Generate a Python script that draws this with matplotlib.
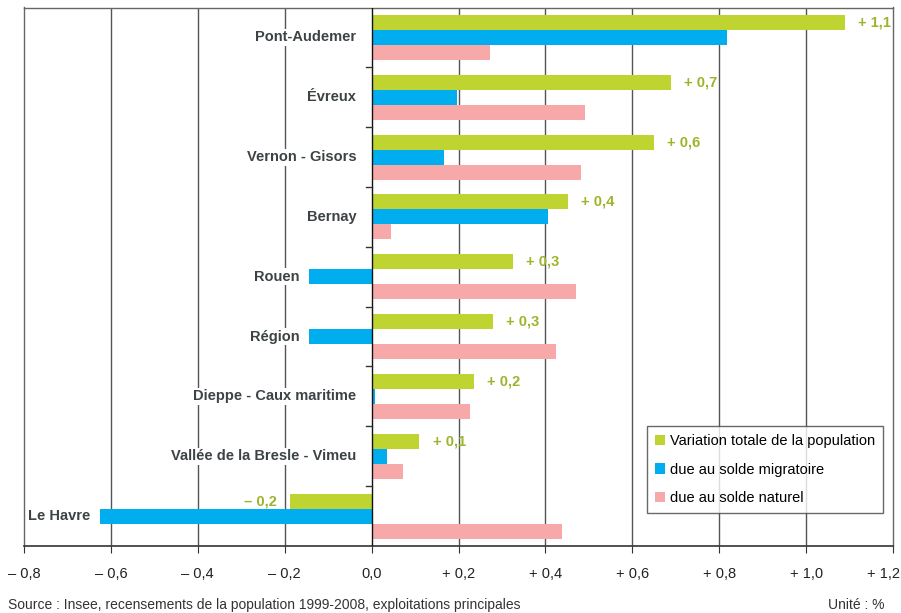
import matplotlib.pyplot as plt
import matplotlib.transforms as mtransforms
import numpy as np

plt.rcParams['font.family'] = ['Liberation Sans Narrow', 'Liberation Sans', 'DejaVu Sans']

zones = ["Pont-Audemer", "Évreux", "Vernon - Gisors", "Bernay", "Rouen", "Région",
         "Dieppe - Caux maritime", "Vallée de la Bresle - Vimeu", "Le Havre"]
totale = [1.089, 0.688, 0.649, 0.451, 0.326, 0.280, 0.236, 0.110, -0.187]
migratoire = [0.818, 0.197, 0.167, 0.405, -0.143, -0.143, 0.008, 0.036, -0.626]
naturel = [0.273, 0.492, 0.483, 0.045, 0.470, 0.424, 0.227, 0.073, 0.438]
etiquettes = ["+ 1,1", "+ 0,7", "+ 0,6", "+ 0,4", "+ 0,3", "+ 0,3", "+ 0,2", "+ 0,1", "– 0,2"]
xticks = [-0.8, -0.6, -0.4, -0.2, 0.0, 0.2, 0.4, 0.6, 0.8, 1.0, 1.2]
xlabels = ["– 0,8", "– 0,6", "– 0,4", "– 0,2", "0,0", "+ 0,2", "+ 0,4", "+ 0,6", "+ 0,8", "+ 1,0", "+ 1,2"]

c_vert = '#bfd430'
c_bleu = '#00aeef'
c_rose = '#f7a9aa'
c_txt = '#3d4345'

fig = plt.figure(figsize=(9.01, 6.13), dpi=100)
# axes de -0,8 (x=24 px) a +1,2 (x=893 px)
ax = fig.add_axes([24 / 901, 1 - 546 / 613, 869 / 901, 538.5 / 613])

y = np.arange(len(zones))
h = 0.25
ax.barh(y - h, totale, height=h, color=c_vert, label="Variation totale de la population", zorder=3)
ax.barh(y, migratoire, height=h, color=c_bleu, label="due au solde migratoire", zorder=3)
ax.barh(y + h, naturel, height=h, color=c_rose, label="due au solde naturel", zorder=3)

for i in range(len(zones)):
    v = totale[i]
    if v >= 0:
        ax.annotate(etiquettes[i], (v, y[i] - h), xytext=(9.5, 0), textcoords='offset points',
                    ha='left', va='center', color='#9bb52a', fontsize=10.5, fontweight='bold')
    else:
        ax.annotate(etiquettes[i], (v, y[i] - h), xytext=(-9.5, 0), textcoords='offset points',
                    ha='right', va='center', color='#9bb52a', fontsize=10.5, fontweight='bold')
    if migratoire[i] < 0:
        xl, off = migratoire[i], -7
    else:
        xl, off = 0, -11
    ax.annotate(zones[i], (xl, y[i]), xytext=(off, 0), textcoords='offset points',
                ha='right', va='center', color=c_txt, fontsize=10.5, fontweight='bold',
                bbox=dict(facecolor='white', edgecolor='none', pad=1), zorder=4)

ax.set_xlim(-0.8, 1.2)
ax.set_ylim(8.5, -0.5)
ax.set_xticks(xticks)
ax.set_xticklabels(xlabels, fontsize=10.5, color='#222222')
ax.tick_params(axis='x', direction='out', length=5, color='#333333', pad=10)
ax.set_yticks([])
# dernier libelle "+ 1,2" colle au bord droit
last = ax.get_xticklabels()[-1]
last.set_horizontalalignment('right')
last.set_transform(last.get_transform() + mtransforms.ScaledTranslation(7 / 100, 0, fig.dpi_scale_trans))

for xv in xticks[1:-1]:
    if xv != 0:
        ax.axvline(xv, color='#555555', linewidth=1, zorder=1)
ax.axvline(0, color='#111111', linewidth=1, zorder=4)
for yv in y[:-1] + 0.5:
    ax.plot([-0.012, 0], [yv, yv], color='#333333', linewidth=1, zorder=4)

for s in ['top', 'left', 'right']:
    ax.spines[s].set_color('#666666')
    ax.spines[s].set_linewidth(1)
ax.spines['bottom'].set_color('#333333')
ax.spines['bottom'].set_linewidth(1.2)

leg = ax.legend(loc='lower right', bbox_to_anchor=(0.9885, 0.061), fontsize=10.5, frameon=True,
                fancybox=False, edgecolor='#444444', handlelength=0.7, handleheight=0.7,
                handletextpad=0.3, labelspacing=1.0, borderpad=0.55, borderaxespad=0)
leg.get_frame().set_linewidth(1)
leg.set_zorder(5)

fig.text(8 / 901, 1 - 605 / 613, "Source : Insee, recensements de la population 1999-2008, exploitations principales",
         fontsize=10, color='#333333', va='center', ha='left')
fig.text(884 / 901, 1 - 605 / 613, "Unité : %", fontsize=10, color='#333333', va='center', ha='right')

plt.savefig('out.png', dpi=100)
